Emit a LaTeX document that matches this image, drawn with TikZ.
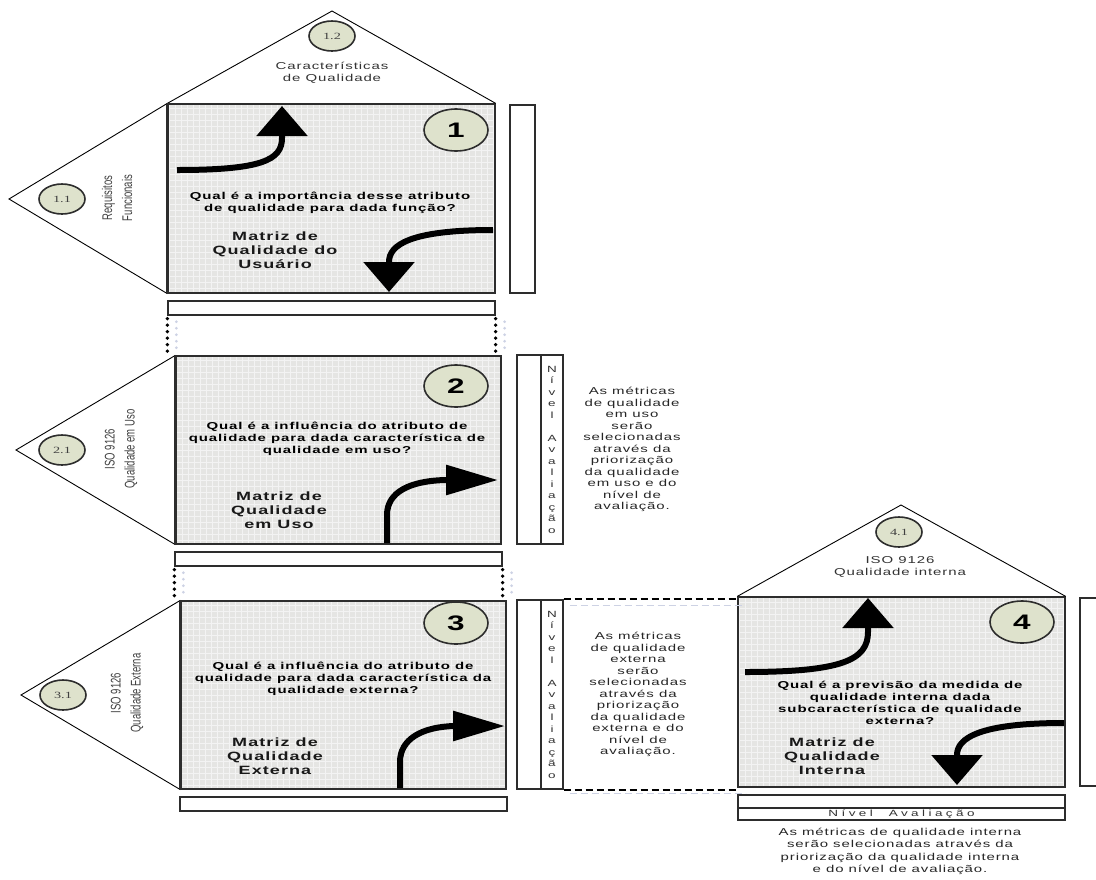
\documentclass[tikz,border=0pt]{standalone}
\usepackage{fontspec}
\usetikzlibrary{arrows.meta,shapes.geometric}

\setmainfont{Liberation Sans}
\newfontfamily\wide[FakeStretch=1.5,LetterSpace=9]{Liberation Sans}
\newfontfamily\narrow[FakeStretch=0.68]{Liberation Sans}
\newfontfamily\wideserif[FakeStretch=1.5]{Liberation Serif}

\definecolor{matfill}{RGB}{229,229,227}
\definecolor{gridcol}{RGB}{243,243,243}
\definecolor{badge}{RGB}{222,226,204}
\definecolor{frame}{RGB}{45,45,45}
\definecolor{ghost}{RGB}{205,210,228}

\begin{document}
\begin{tikzpicture}[
  x=1pt, y=-1pt,
  matbox/.style={
    draw=frame,
    line width=1.3pt,
    fill=matfill,
    inner sep=0pt,
    path picture={
      \draw[gridcol, line width=0.6pt, step=6pt]
        (path picture bounding box.south west) grid
        (path picture bounding box.north east);
    }
  },
  plainbox/.style={
    draw=frame,
    line width=1.3pt,
    fill=white,
    inner sep=0pt
  },
  roof/.style={
    draw=black,
    line width=0.9pt
  },
  thickedge/.style={
    draw=frame,
    line width=3.5pt
  },
  smalltag/.style={
    ellipse,
    draw=frame,
    line width=1.6pt,
    fill=badge,
    minimum width=46pt,
    minimum height=30pt,
    inner sep=0pt,
    text=black!75,
    font=\wideserif\fontsize{9.5}{10}\selectfont
  },
  bigtag/.style={
    ellipse,
    draw=frame,
    line width=1.6pt,
    fill=badge,
    minimum width=64pt,
    minimum height=42pt,
    inner sep=0pt,
    font=\wide\bfseries\fontsize{21}{24}\selectfont
  },
  question/.style={
    align=center,
    inner sep=0pt,
    font=\wide\bfseries\fontsize{10}{12}\selectfont
  },
  matname/.style={
    align=center,
    inner sep=0pt,
    text=black!90,
    font=\wide\bfseries\fontsize{12}{14}\selectfont
  },
  metrictext/.style={
    align=center,
    inner sep=0pt,
    text=black!85,
    font=\wide\fontsize{10}{11.5}\selectfont
  },
  sidetext/.style={
    align=center,
    inner sep=0pt,
    rotate=90,
    text=black!75,
    font=\narrow\fontsize{14}{20}\selectfont
  },
  rooftext/.style={
    align=center,
    inner sep=0pt,
    text=black!80,
    font=\wide\fontsize{10}{12}\selectfont
  },
  levelcol/.style={
    plainbox,
    align=center,
    minimum width=22pt,
    minimum height=189pt,
    text=black!80,
    font=\wide\fontsize{9}{11.5}\selectfont
  },
  bendarrow/.style={
    line width=6pt,
    -{Triangle[length=30pt,width=50pt]}
  },
  bendarrowh/.style={
    line width=6pt,
    -{Triangle[length=52pt,width=29pt]}
  },
  dotline/.style={
    line width=3.8pt,
    line cap=round,
    dash pattern=on 0pt off 6.5pt
  },
  ghostdots/.style={
    ghost,
    line width=3pt,
    line cap=round,
    dash pattern=on 0pt off 6.5pt
  },
  dashline/.style={
    line width=2pt,
    dash pattern=on 7pt off 4pt
  },
  ghostdash/.style={
    ghost,
    line width=1.5pt,
    dash pattern=on 7pt off 4pt
  }
]

\path[use as bounding box] (0,0) rectangle (1096,879);

% matrix 1
\node[matbox, minimum width=327pt, minimum height=189pt] (m1) at (331.5,198.5) {};
\draw[roof] (m1.north west) -- (332,11) -- (m1.north east);
\draw[roof] (m1.north west) -- (9,199) -- (m1.south west);
\draw[thickedge] (m1.north west) -- (m1.south west);
\node[plainbox, minimum width=25pt, minimum height=188pt] (r1) at (522.5,199) {};
\node[plainbox, minimum width=327pt, minimum height=14pt] (b1) at (331.5,308) {};

\node[smalltag] (c11) at (62,199) {1.1};
\node[smalltag] (c12) at (332,36) {1.2};
\node[bigtag] (c1) at (456,130) {1};
\node[rooftext] (h1) at (332,73) {Características\\de Qualidade};
\node[sidetext] (s1) at (117,198) {Requisitos\\Funcionais};
\node[question] (q1) at (330,203)
  {Qual é a importância desse atributo\\de qualidade para dada função?};
\node[matname] (p1) at (275,250) {Matriz de\\Qualidade do\\Usuário};

\draw[bendarrow] (177,170) .. controls (262,170) and (282,160) .. (282,138) -- (282,106);
\draw[bendarrow] (493,230) .. controls (410,230) and (389,245) .. (389,262) -- (389,292);

% matrix 2
\node[matbox, minimum width=325pt, minimum height=188pt] (m2) at (338.5,450) {};
\draw[roof] (m2.north west) -- (16,450) -- (m2.south west);
\draw[thickedge] (m2.north west) -- (m2.south west);
\node[plainbox, minimum width=24pt, minimum height=189pt] (g2) at (529,449.5) {};
\node[levelcol] (n2) at (552,449.5)
  {N\\í\\v\\e\\l\\\mbox{}\\A\\v\\a\\l\\i\\a\\ç\\ã\\o};
\node[plainbox, minimum width=327pt, minimum height=14pt] (b2) at (338.5,559) {};

\node[smalltag] (c21) at (62,450) {2.1};
\node[bigtag] (c2) at (456,386) {2};
\node[sidetext] (s2) at (121,449) {ISO 9126\\Qualidade em Uso};
\node[question] (q2) at (337,439)
  {Qual é a influência do atributo de\\qualidade para dada característica de\\qualidade em uso?};
\node[matname] (p2) at (279,510) {Matriz de\\Qualidade\\em Uso};
\node[metrictext] (t2) at (632,449.5)
  {As métricas\\de qualidade\\em uso\\serão\\selecionadas\\através da\\priorização\\da qualidade\\em uso e do\\nível de\\avaliação.};

\draw[bendarrowh] (387,543) -- (387,515) .. controls (387,492) and (410,481) .. (445,480) -- (498,480);

\draw[dotline] (b1.south west) ++(0,3) -- (b1.south west |- m2.north);
\draw[dotline] (b1.south east) ++(0,3) -- (b1.south east |- m2.north);
\draw[ghostdots] (b1.south west) ++(9,6) -- ++(0,28);
\draw[ghostdots] (b1.south east) ++(9,6) -- ++(0,28);

% matrix 3
\node[matbox, minimum width=325pt, minimum height=188pt] (m3) at (343.5,695) {};
\draw[roof] (m3.north west) -- (21,695) -- (m3.south west);
\draw[thickedge] (m3.north west) -- (m3.south west);
\node[plainbox, minimum width=24pt, minimum height=189pt] (g3) at (529,694.5) {};
\node[levelcol] (n3) at (552,694.5)
  {N\\í\\v\\e\\l\\\mbox{}\\A\\v\\a\\l\\i\\a\\ç\\ã\\o};
\node[plainbox, minimum width=327pt, minimum height=14pt] (b3) at (343.5,804) {};

\node[smalltag] (c31) at (63,695) {3.1};
\node[bigtag] (c3) at (456,623) {3};
\node[sidetext] (s3) at (127,693) {ISO 9126\\Qualidade Externa};
\node[question] (q3) at (343,679)
  {Qual é a influência do atributo de\\qualidade para dada característica da\\qualidade externa?};
\node[matname] (p3) at (275,756) {Matriz de\\Qualidade\\Externa};
\node[metrictext] (t3) at (638,694.5)
  {As métricas\\de qualidade\\externa\\serão\\selecionadas\\através da\\priorização\\da qualidade\\externa e do\\nível de\\avaliação.};

\draw[bendarrowh] (400,788) -- (400,762) .. controls (400,739) and (422,727) .. (454,726) -- (505,726);

\draw[dotline] (b2.south west) ++(0,3) -- (b2.south west |- m3.north);
\draw[dotline] (b2.south east) ++(0,3) -- (b2.south east |- m3.north);
\draw[ghostdots] (b2.south west) ++(9,6) -- ++(0,24);
\draw[ghostdots] (b2.south east) ++(9,6) -- ++(0,24);

% matrix 4
\node[matbox, minimum width=327pt, minimum height=190pt] (m4) at (901.5,692) {};
\draw[roof] (m4.north west) -- (901,505) -- (m4.north east);
\draw[frame, line width=1.3pt] (1097,598) -| (1080,786) -- (1097,786);
\node[plainbox, minimum width=327pt, minimum height=13pt] (b4) at (901.5,801.5) {};
\node[plainbox, minimum width=327pt, minimum height=12pt, text=black!80,
  font=\wide\fontsize{9}{10}\selectfont\addfontfeature{LetterSpace=38}] (l4) at (901.5,814)
  {Nível\hspace{16pt}Avaliação};

\node[smalltag] (c41) at (899,532) {4.1};
\node[bigtag] (c4) at (1022,622) {4};
\node[rooftext] (h4) at (900,567) {ISO 9126\\Qualidade interna};
\node[question] (q4) at (900,703)
  {Qual é a previsão da medida de\\qualidade interna dada\\subcaracterística de qualidade\\externa?};
\node[matname] (p4) at (832,756) {Matriz de\\Qualidade\\Interna};
\node[metrictext, font=\wide\fontsize{10}{12.3}\selectfont] (t4) at (900,851.5)
  {As métricas de qualidade interna\\serão selecionadas através da\\priorização da qualidade interna\\e do nível de avaliação.};

\draw[bendarrow] (745,672) .. controls (842,672) and (868,660) .. (868,632) -- (868,598);
\draw[bendarrow] (1064,723) .. controls (980,723) and (957,738) .. (957,755) -- (957,785);

\draw[dashline] (n3.north east) -- (n3.north east -| m4.west);
\draw[dashline] (n3.south east) -- (n3.south east -| m4.west);
\draw[ghostdash] (n3.north east) ++(6,6) -- ++(176,0);
\draw[ghostdash] (n3.south east) ++(6,4) -- ++(176,0);

\end{tikzpicture}
\end{document}
